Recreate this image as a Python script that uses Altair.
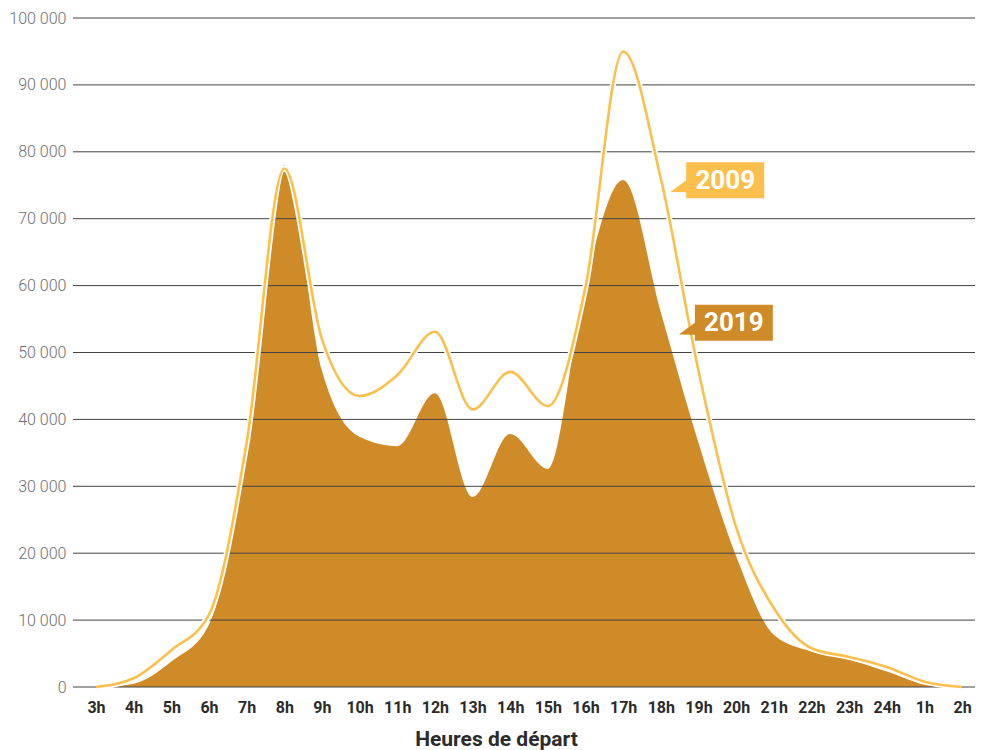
import altair as alt
import pandas as pd

# ---- data ----
hours = ["3h", "4h", "5h", "6h", "7h", "8h", "9h", "10h", "11h", "12h", "13h", "14h",
         "15h", "16h", "17h", "18h", "19h", "20h", "21h", "22h", "23h", "24h", "1h", "2h"]
trips_2019 = [0, 500, 3800, 9300, 35500, 78000, 47300, 37400, 36000, 43900, 28400, 37800,
              32600, 60500, 75800, 56000, 36500, 19600, 7800, 5300, 4100, 2300, 450, 0]
trips_2009 = [0, 1300, 5500, 10800, 36500, 77500, 52000, 43500, 46600, 53100, 41500, 47100,
              42000, 59800, 95000, 76000, 47300, 23900, 11800, 5800, 4500, 3000, 800, 0]
y_ticks = [0, 10000, 20000, 30000, 40000, 50000, 60000, 70000, 80000, 90000, 100000]

callout_labels = ["2009", "2019"]
callout_hour = [15.25, 15.48]      # position along the hour axis (index units)
callout_value = [74000, 52700]     # value the callout points to

AREA = "#CE8B28"
LINE = "#FDBF4C"
FONT = "Roboto, Liberation Sans, sans-serif"

df = pd.DataFrame({"i": list(range(len(hours))), "hour": hours,
                   "y2019": trips_2019, "y2009": trips_2009})
df_ticks = pd.DataFrame({"v": y_ticks})
df_call = pd.DataFrame({"label": callout_labels, "h": callout_hour, "v": callout_value})

x_scale = alt.Scale(domain=[-0.611, 23.345], nice=False, zero=False)
y_scale = alt.Scale(domain=[0, 100000], nice=False)

labels_js = "[" + ",".join("'" + h + "'" for h in hours) + "]"

x_axis = alt.Axis(values=list(range(len(hours))), labelExpr=labels_js + "[datum.value]",
                  title="Heures de départ", grid=False, domain=False, ticks=False,
                  labelFont=FONT, labelFontWeight="bold", labelFontSize=16,
                  labelColor="#2b2b2b", labelPadding=12, labelFlush=False,
                  labelOverlap=False, titleFont=FONT, titleFontWeight="bold",
                  titleFontSize=21, titleColor="#2b2b2b", titleX=423, titleY=58,
                  titleAlign="center", titleBaseline="alphabetic")
y_axis = alt.Axis(values=y_ticks, labelExpr="replace(format(datum.value, ','), ',', ' ')",
                  title="", grid=False, domain=False, ticks=False, labelPadding=7,
                  labelFont=FONT, labelFontSize=16, labelFontWeight=300,
                  labelColor="#6e6e6e")


def xenc(field):
    return alt.X(field, scale=x_scale, axis=x_axis)


def yenc(field):
    return alt.Y(field, scale=y_scale, axis=y_axis)


base = alt.Chart(df)

area = base.mark_area(color=AREA, interpolate="monotone").encode(
    x=xenc("i:Q"), y=yenc("y2019:Q"))

grid = alt.Chart(df_ticks).mark_rule(color="#444444", strokeWidth=1).encode(
    y=yenc("v:Q"))

halo = base.mark_line(color="white", strokeWidth=6, interpolate="monotone").encode(
    x=xenc("i:Q"), y=yenc("y2009:Q"))
line = base.mark_line(color=LINE, strokeWidth=2.6, interpolate="monotone").encode(
    x=xenc("i:Q"), y=yenc("y2009:Q"))

CALLOUT_PATH = "M 0 0 L 1.6 -1.17 L 1.6 -2.97 L 9.4 -2.97 L 9.4 0.63 L 1.6 0.63 L 1.6 0.03 Z"
call_box = alt.Chart(df_call).mark_point(shape=CALLOUT_PATH, size=400, filled=True,
                                         opacity=1, strokeWidth=0).encode(
    x=xenc("h:Q"), y=yenc("v:Q"),
    color=alt.Color("label:N", scale=alt.Scale(domain=callout_labels, range=[LINE, AREA]),
                    legend=None),
)
call_text = alt.Chart(df_call).mark_text(font=FONT, fontWeight="bold", fontSize=26,
                                         color="white", align="center",
                                         baseline="alphabetic", dx=55, dy=-3).encode(
    x=xenc("h:Q"), y=yenc("v:Q"), text="label:N")

chart = alt.layer(area, grid, halo, line, call_box, call_text).properties(
    width=902, height=669,
    autosize=alt.AutoSizeParams(type="none"),
    padding={"left": 65, "top": 10, "right": 0, "bottom": 65},
    background="white",
).configure_view(stroke=None)

chart.save("out.html", embed_options={"renderer": "svg", "actions": False})
